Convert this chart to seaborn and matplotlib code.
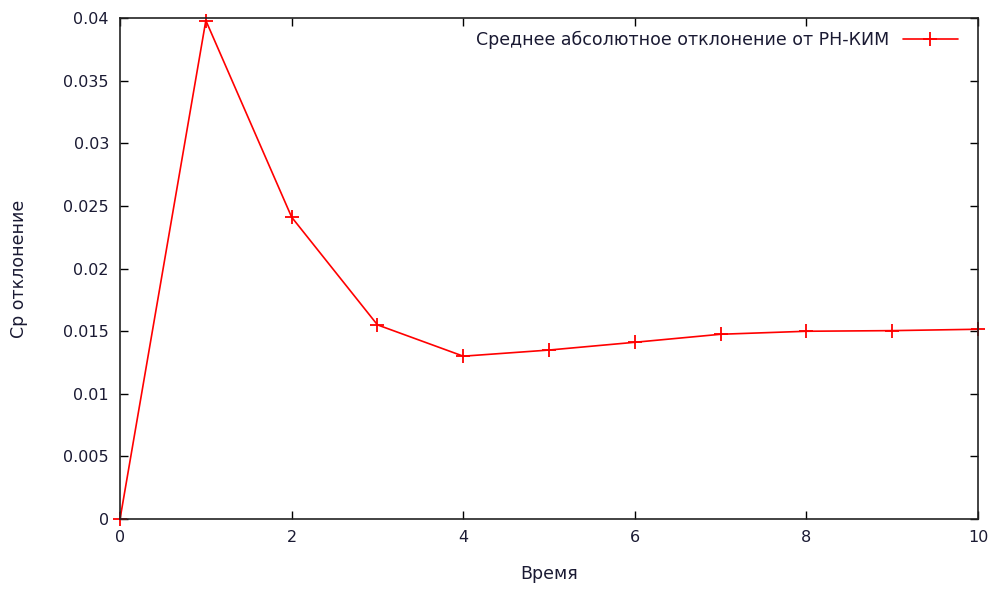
import numpy as np
import pandas as pd
import matplotlib
matplotlib.use("Agg")
import matplotlib.pyplot as plt
import matplotlib.ticker as mticker
import seaborn as sns

# данные: время и среднее абсолютное отклонение
time = [0, 1, 2, 3, 4, 5, 6, 7, 8, 9, 10]
deviation = [0.0, 0.0398, 0.0241, 0.0155, 0.0130, 0.01349, 0.01411,
             0.01475, 0.01499, 0.01504, 0.01515]
series_label = "Среднее абсолютное отклонение от РН-КИМ"
x_label = "Время"
y_label = "Ср отклонение"
x_ticks = [0, 2, 4, 6, 8, 10]
y_ticks = [0, 0.005, 0.01, 0.015, 0.02, 0.025, 0.03, 0.035, 0.04]

sns.set_style("ticks")
plt.rcParams['font.family'] = ['DejaVu Sans']
plt.rcParams['font.size'] = 11

df = pd.DataFrame({'t': time, 'dev': deviation})

fig = plt.figure(figsize=(9.92, 5.92), dpi=100)
ax = fig.add_axes([0.121, 0.1233, 0.865, 0.8463])

sns.lineplot(data=df, x='t', y='dev', ax=ax, color='red', lw=1.2,
             marker='+', markersize=10, markeredgewidth=1.3,
             markeredgecolor='red', clip_on=False, label=series_label)

ax.set_xlim(0, 10)
ax.set_ylim(0, 0.04)
ax.set_xticks(x_ticks)
ax.set_yticks(y_ticks)
ax.yaxis.set_major_formatter(mticker.FuncFormatter(lambda v, p: f"{v:g}"))
ax.tick_params(direction='in', top=True, right=True, length=6, width=1,
               labelsize=11.5, pad=8, color='black', labelcolor='#1a1a33')
for s in ax.spines.values():
    s.set_linewidth(1.2)
    s.set_color('#222222')

ax.set_xlabel(x_label, fontsize=12.5, labelpad=14, color='#1a1a33')
ax.set_ylabel(y_label, fontsize=12.5, labelpad=25, color='#1a1a33')

leg = ax.legend(loc='upper right', frameon=False, markerfirst=False, fontsize=12.5,
                handlelength=3.2, bbox_to_anchor=(0.995, 1.005))
for t in leg.get_texts():
    t.set_color('#1a1a33')

fig.savefig("out.png", dpi=100)
